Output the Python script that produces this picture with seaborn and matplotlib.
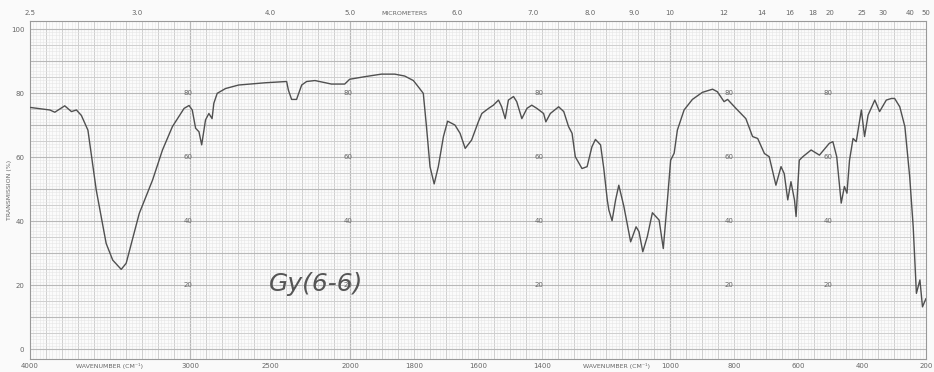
import numpy as np
import pandas as pd
import matplotlib
matplotlib.use("Agg")
import matplotlib.pyplot as plt
import matplotlib.transforms as mtransforms
import seaborn as sns

# ---- data ----
wavenumber = [4000, 3876, 3845, 3783, 3741, 3710, 3679, 3638, 3586, 3524, 3483, 3430, 3399,
              3317, 3234, 3172, 3110, 3037, 3006, 2986, 2965, 2944, 2927, 2903, 2882, 2862,
              2851, 2830, 2778, 2696, 2530, 2396, 2385, 2365, 2334, 2302, 2271, 2219, 2116,
              2033, 2002, 1954, 1902, 1860, 1829, 1802, 1787, 1771, 1761, 1750, 1737, 1724,
              1708, 1695, 1672, 1656, 1640, 1620, 1599, 1588, 1567, 1552, 1536, 1526, 1515,
              1505, 1489, 1479, 1463, 1447, 1432, 1416, 1395, 1388, 1374, 1348, 1332, 1317,
              1306, 1296, 1275, 1259, 1244, 1233, 1217, 1207, 1196, 1191, 1181, 1170, 1160,
              1144, 1123, 1106, 1097, 1085, 1071, 1055, 1034, 1021, 1008, 998, 987, 977, 956,
              930, 899, 867, 852, 831, 820, 794, 763, 742, 726, 705, 690, 669, 653, 643, 632,
              622, 611, 606, 596, 585, 559, 533, 502, 491, 479, 465, 455, 447, 439, 428, 418,
              402, 392, 381, 360, 345, 324, 308, 298, 282, 266, 251, 240, 230, 219, 211, 200]
transmission = [75.5, 74.7, 74.0, 76.0, 74.2, 74.7, 73.0, 68.4, 49.7, 33.0, 27.8, 24.9, 26.8,
                42.4, 52.8, 62.2, 69.5, 75.2, 76.1, 74.7, 69.0, 67.9, 63.8, 71.6, 73.6, 72.0,
                76.8, 79.9, 81.4, 82.5, 83.2, 83.6, 80.9, 78.0, 78.0, 82.5, 83.6, 83.9, 82.8,
                82.8, 84.3, 85.1, 85.9, 85.9, 85.3, 83.9, 82.0, 79.9, 69.5, 57.0, 51.6, 57.0,
                66.4, 71.2, 70.0, 67.4, 62.7, 65.3, 71.0, 73.6, 75.2, 76.2, 77.8, 75.7, 72.0,
                77.8, 78.9, 77.3, 72.0, 75.2, 76.2, 75.2, 73.6, 71.0, 73.6, 75.7, 74.2, 69.5,
                67.4, 60.1, 56.4, 57.0, 63.2, 65.5, 63.8, 56.5, 46.6, 43.4, 40.1, 46.6, 51.2,
                44.5, 33.5, 38.2, 36.7, 30.4, 35.1, 42.6, 40.3, 31.4, 46.6, 59.0, 61.2, 68.4, 74.7,
                78.0, 80.2, 81.2, 80.4, 77.3, 78.0, 75.2, 72.0, 66.4, 65.8, 61.1, 60.1, 51.2, 57.0, 54.8, 46.6,
                52.3, 46.6, 41.4, 59.0, 60.1, 62.2, 60.6, 64.3, 64.8, 60.1, 45.6, 50.8, 48.7, 59.0, 65.8, 64.8,
                74.7, 66.4, 73.1, 77.8, 74.2, 77.8, 78.3, 78.3, 75.7, 69.5, 53.9, 38.2, 17.4, 21.6, 13.2, 15.8]

bottom_ticks = [4000, 3000, 2500, 2000, 1800, 1600, 1400, 1000, 800, 600, 400, 200]
bottom_labels = ["4000", "3000", "2500", "2000", "1800", "1600", "1400", "1000", "800", "600", "400", "200"]
micrometer_labels = ["2.5", "3.0", "4.0", "5.0", "6.0", "7.0", "8.0", "9.0", "10", "12", "14",
                     "16", "18", "20", "25", "30", "40", "50"]
y_labels = ["0", "20", "40", "60", "80", "100"]
inner_labels = ["20", "40", "60", "80"]
sample_label = "Gy(6-6)"

df = pd.DataFrame({"wavenumber": wavenumber, "transmission": transmission})

# ---- figure ----
sns.set_theme(style="white")
plt.rcParams['font.family'] = ['DejaVu Sans']
fig = plt.figure(figsize=(9.34, 3.72), dpi=100, facecolor="#fafafa")
ax = fig.add_axes([30/934, 1 - 359/372, (926 - 30)/934, (359 - 21)/372])
ax.set_facecolor("#fbfbfb")


def fwd(w):
    w = np.asarray(w, dtype=float)
    return np.where(w >= 2000, w - 2000, 2 * (w - 2000))


def inv(u):
    u = np.asarray(u, dtype=float)
    return np.where(u >= 0, u + 2000, u / 2 + 2000)


ax.set_xscale("function", functions=(fwd, inv))
ax.set_xlim(4000, 200)
ax.set_ylim(-3.1, 102.5)

# graph paper grid
fine_c, mid_c, maj_c = "#e6e6e6", "#cfcfcf", "#b8b8b8"
for v in np.arange(2000, 4001, 20):
    ax.axvline(v, color=fine_c, lw=0.4, zorder=0)
for v in np.arange(200, 2001, 10):
    ax.axvline(v, color=fine_c, lw=0.4, zorder=0)
for v in np.arange(2000, 4001, 100):
    ax.axvline(v, color=mid_c, lw=0.7, zorder=0)
for v in np.arange(200, 2001, 50):
    ax.axvline(v, color=mid_c, lw=0.7, zorder=0)
for v in [3000, 2000, 1000]:
    ax.axvline(v, color=maj_c, lw=0.9, zorder=0)
for h in np.arange(0, 101, 1):
    ax.axhline(h, color=fine_c, lw=0.4, zorder=0)
for h in np.arange(0, 101, 5):
    ax.axhline(h, color=mid_c, lw=0.7, zorder=0)
for h in np.arange(0, 101, 10):
    ax.axhline(h, color=maj_c, lw=0.8, zorder=0)

sns.lineplot(data=df, x="wavenumber", y="transmission", ax=ax, color="#505050",
             lw=1.0, sort=False, zorder=3)

ax.set_xlabel("")
ax.set_ylabel("")
for s in ax.spines.values():
    s.set_color("#999999")
    s.set_linewidth(0.8)

tc = "#666666"
ax.set_xticks(bottom_ticks)
ax.set_xticklabels(bottom_labels, fontsize=5, color=tc)
ax.set_xticks([], minor=True)
ax.tick_params(axis="x", length=0, pad=3)
ax.set_yticks([int(v) for v in y_labels])
ax.set_yticklabels(y_labels, fontsize=5, color=tc)
ax.tick_params(axis="y", length=0, pad=4)

tb = mtransforms.blended_transform_factory(ax.transData, ax.transAxes)
for w_txt in [3503, 1166]:
    ax.text(w_txt, -0.012, "WAVENUMBER (CM\u207b\u00b9)", transform=tb, fontsize=4.5,
            color=tc, ha="center", va="top")
for lab in micrometer_labels:
    ax.text(1e4 / float(lab), 1.015, lab, transform=tb, fontsize=5, color=tc,
            ha="center", va="bottom")
ax.text(1830, 1.015, "MICROMETERS", transform=tb, fontsize=4.5, color=tc,
        ha="center", va="bottom")
for w_pos in [3010, 2010, 1410, 815, 505]:
    for lab in inner_labels:
        ax.text(w_pos, float(lab), lab, fontsize=5, color=tc, ha="center", va="center",
                zorder=2)
fig.text(10/934, 1 - 190/372, "TRANSMISSION (%)", rotation=90, fontsize=4.5, color=tc,
         ha="center", va="center")

ax.text(2510, 20.3, sample_label, fontsize=18, fontstyle="italic", color="#555555",
        ha="left", va="center", zorder=4)

fig.savefig("out.png", dpi=100, facecolor=fig.get_facecolor())
